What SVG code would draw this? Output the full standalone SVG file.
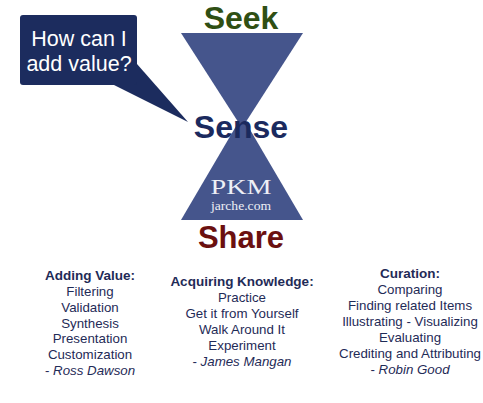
<svg xmlns="http://www.w3.org/2000/svg" width="483" height="403" viewBox="0 0 483 403">
<style>
.big{font-family:"Liberation Sans",Arial,sans-serif;font-weight:bold;font-size:31px;text-anchor:middle}
.t{font-family:"Liberation Sans",Arial,sans-serif;font-size:13.3px;fill:#1f2b57;text-anchor:middle}
.h{font-weight:bold;font-size:13.5px}
.i{font-style:italic}
.ser{font-family:"Liberation Serif","Times New Roman",serif;fill:#eef0f6;text-anchor:middle}
</style>
<rect width="483" height="403" fill="#ffffff"/>
<g id="hourglass">
<polygon points="181,33 303,33 242,128" fill="#45558c"/>
<polygon points="242,116 303,220 181,220" fill="#45558c"/>
</g>
<g id="bubble">
<polygon points="112,84 137,64 188,122" fill="#1c2c5e"/>
<rect x="20" y="15" width="117" height="70" rx="3" fill="#1c2c5e"/>
<text x="79" y="46" font-family="Liberation Sans,Arial,sans-serif" font-size="21.5" fill="#ffffff" text-anchor="middle">How can I</text>
<text x="79" y="71" font-family="Liberation Sans,Arial,sans-serif" font-size="21.5" fill="#ffffff" text-anchor="middle">add value?</text>
</g>
<g id="seek"><text class="big" x="241" y="29" fill="#2f4f14" style="font-size:32px">Seek</text></g>
<g id="sense"><text class="big" x="241" y="138" fill="#1b2a5e" style="font-size:32px">Sense</text></g>
<g id="share"><text class="big" x="241" y="248" fill="#6b1010">Share</text></g>
<g id="pkm">
<text class="ser" x="241" y="194" font-size="21" textLength="61" lengthAdjust="spacingAndGlyphs">PKM</text>
<text class="ser" x="241" y="210" font-size="12" textLength="60" lengthAdjust="spacingAndGlyphs">jarche.com</text>
</g>
<g id="adding-value">
<text class="t" x="90" y="280"><tspan class="h">Adding Value:</tspan></text>
<text class="t" x="90" y="296">Filtering</text>
<text class="t" x="90" y="312">Validation</text>
<text class="t" x="90" y="328">Synthesis</text>
<text class="t" x="90" y="343">Presentation</text>
<text class="t" x="90" y="359">Customization</text>
<text class="t" x="90" y="375">- <tspan class="i">Ross Dawson</tspan></text>
</g>
<g id="acquiring-knowledge">
<text class="t" x="242" y="286"><tspan class="h">Acquiring Knowledge:</tspan></text>
<text class="t" x="242" y="302">Practice</text>
<text class="t" x="242" y="318">Get it from Yourself</text>
<text class="t" x="242" y="334">Walk Around It</text>
<text class="t" x="242" y="350">Experiment</text>
<text class="t" x="242" y="366">- <tspan class="i">James Mangan</tspan></text>
</g>
<g id="curation">
<text class="t" x="410" y="278"><tspan class="h">Curation:</tspan></text>
<text class="t" x="410" y="294">Comparing</text>
<text class="t" x="410" y="310">Finding related Items</text>
<text class="t" x="410" y="326">Illustrating - Visualizing</text>
<text class="t" x="410" y="342">Evaluating</text>
<text class="t" x="410" y="358">Crediting and Attributing</text>
<text class="t" x="410" y="374">- <tspan class="i">Robin Good</tspan></text>
</g>
</svg>
